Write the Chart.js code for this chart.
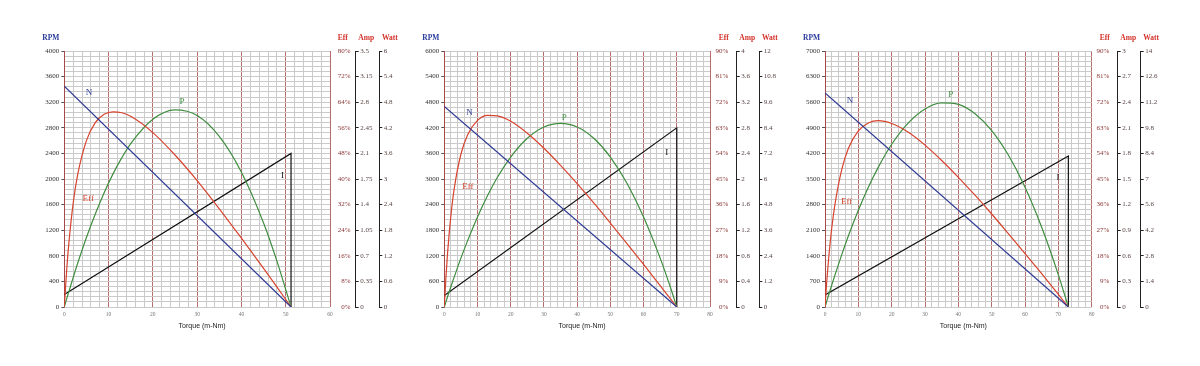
<!DOCTYPE html>
<html>
<head>
<meta charset="utf-8">
<script src="https://cdn.jsdelivr.net/npm/chart.js@4.4.1/dist/chart.umd.min.js"></script>
<style>
body { margin: 0; background: #fff; width: 1200px; height: 366px; position: relative; overflow: hidden; }
canvas { position: absolute; top: 0; }
</style>
</head>
<body>
<canvas id="c1" width="380" height="366" style="left:20px"></canvas>
<canvas id="c2" width="380" height="366" style="left:400px"></canvas>
<canvas id="c3" width="420" height="366" style="left:780px"></canvas>
<script>
// ---- panel 1 ----
const torque1 = [0, 0.5, 1, 2, 3, 5, 7, 9, 11, 13, 15, 20, 25, 30, 35, 40, 45, 48, 51.2];
const eff1 = [0, 10.8, 19.5, 32.4, 41.2, 52.0, 57.6, 60.2, 61.0, 60.7, 59.6, 54.5, 47.5, 39.5, 30.7, 21.5, 12.1, 6.3, 0];
const watt1 = [0, 0.18, 0.35, 0.69, 1.02, 1.63, 2.18, 2.68, 3.12, 3.50, 3.83, 4.40, 4.62, 4.49, 4.00, 3.16, 1.97, 1.08, 0];
const nTorque1 = [0, 51.2];
const rpm1 = [3450, 0];
const iTorque1 = [0, 51.2, 51.2];
const amp1 = [0.17, 2.1, 0];

// ---- panel 2 ----
const torque2 = [0, 0.5, 1, 2, 3, 5, 7, 10, 13, 16, 20, 25, 30, 35, 40, 45, 50, 55, 60, 65, 68, 70];
const eff2 = [0, 10.6, 19.2, 32.3, 41.7, 53.7, 60.5, 65.6, 67.4, 67.2, 65.3, 61.1, 55.8, 49.8, 43.4, 36.6, 29.5, 22.3, 15.0, 7.5, 3.0, 0];
const watt2 = [0, 0.24, 0.49, 0.96, 1.41, 2.29, 3.10, 4.22, 5.21, 6.08, 7.03, 7.91, 8.44, 8.61, 8.44, 7.91, 7.03, 5.80, 4.22, 2.29, 0.96, 0];
const nTorque2 = [0, 70];
const rpm2 = [4700, 0];
const iTorque2 = [0, 70, 70];
const amp2 = [0.18, 2.8, 0];

// ---- panel 3 ----
const torque3 = [0, 0.5, 1, 2, 3, 5, 7, 10, 13, 16, 20, 25, 30, 35, 40, 45, 50, 55, 60, 65, 70, 73];
const eff3 = [0, 8.6, 15.8, 27.5, 36.2, 48.2, 55.7, 61.9, 64.7, 65.5, 64.5, 61.4, 56.9, 51.5, 45.6, 39.3, 32.7, 25.8, 18.8, 11.7, 4.4, 0];
const watt3 = [0, 0.30, 0.60, 1.19, 1.76, 2.85, 3.88, 5.29, 6.55, 7.65, 8.90, 10.07, 10.83, 11.16, 11.08, 10.57, 9.65, 8.31, 6.55, 4.36, 1.76, 0];
const nTorque3 = [0, 73];
const rpm3 = [5850, 0];
const iTorque3 = [0, 73, 73];
const amp3 = [0.14, 1.77, 0];

// axis ranges (tick labels come from these, 10 divisions each)
const torqueMax = [60, 80, 80];
const rpmMax = [4000, 6000, 7000];
const effMax = [80, 90, 90];
const ampMax = [3.5, 4, 3];
const wattMax = [6, 12, 14];

const SERIF = '"Liberation Serif", "DejaVu Serif", serif';
const MAJOR = 'rgba(160,60,60,0.75)';
const MINOR = '#cacaca';

function pts(xs, ys) {
  return xs.map((x, i) => ({ x: x, y: ys[i] }));
}

function line(label, data, axis, color, smooth) {
  return {
    label: label, data: data, yAxisID: axis, showLine: true,
    borderColor: color, borderWidth: 1.2, pointRadius: 0, fill: false,
    cubicInterpolationMode: smooth ? 'monotone' : 'default', tension: 0
  };
}

function makeChart(id, k, d, lay, notes) {
  const rStep = rpmMax[k] / 50;
  const rMajor = rpmMax[k] / 10;

  const texts = {
    id: 'texts',
    afterDraw(chart) {
      const c = chart.ctx;
      const a = chart.chartArea;
      const s = chart.scales;
      c.save();
      c.textBaseline = 'middle';
      c.textAlign = 'center';
      c.font = 'bold 7.5px ' + SERIF;
      c.fillStyle = '#2b3c9b';
      c.fillText('RPM', a.left - 13.5, 38);
      c.fillStyle = '#d4322a';
      c.fillText('Eff', s.yAmp.left - 13, 38);
      c.fillText('Amp', s.yAmp.left + 10.5, 38);
      c.fillText('Watt', s.yWatt.left + 10.5, 38);
      c.font = '7px "Liberation Sans", Arial, sans-serif';
      c.fillStyle = '#222';
      c.fillText('Torque (m-Nm)', (a.left + a.right) / 2 + 5, 326);
      c.font = '9px ' + SERIF;
      notes.forEach(n => {
        c.fillStyle = n.color;
        c.fillText(n.text, s.x.getPixelForValue(n.t), s.yRpm.getPixelForValue(n.v));
      });
      c.restore();
    }
  };

  return new Chart(document.getElementById(id), {
    type: 'scatter',
    data: {
      datasets: [
        line('N', pts(d.nTorque, d.rpm), 'yRpm', '#2f3b95', false),
        line('Eff', pts(d.torque, d.eff), 'yEff', '#d8432e', true),
        line('P', pts(d.torque, d.watt), 'yWatt', '#3f8d3f', true),
        line('I', pts(d.iTorque, d.amp), 'yAmp', '#111111', false)
      ]
    },
    options: {
      responsive: false,
      animation: false,
      devicePixelRatio: 1,
      layout: { padding: { top: 51, left: 0, right: 0, bottom: 0 } },
      plugins: { legend: { display: false }, tooltip: { enabled: false } },
      scales: {
        x: {
          type: 'linear', min: 0, max: torqueMax[k],
          afterFit: s => { s.height = 59; },
          ticks: {
            stepSize: 2, autoSkip: false, maxRotation: 0, padding: 4,
            color: '#777', font: { size: 5.5, family: SERIF },
            callback: v => (v % 10 === 0 ? v : '')
          },
          grid: {
            drawTicks: false,
            color: c => (c.tick && c.tick.value % 10 === 0 ? MAJOR : MINOR)
          },
          border: { display: false }
        },
        yRpm: {
          type: 'linear', position: 'left', min: 0, max: rpmMax[k],
          afterFit: s => { s.width = lay.left; },
          ticks: {
            stepSize: rStep, autoSkip: false, maxTicksLimit: 1000, padding: 2,
            color: '#333', font: { size: 7, family: SERIF },
            callback: v => (v % rMajor === 0 ? v : '')
          },
          grid: {
            color: MINOR, tickLength: 3,
            tickColor: c => (c.tick && c.tick.value % rMajor === 0 ? '#555' : 'rgba(0,0,0,0)')
          },
          border: { color: MAJOR }
        },
        yEff: {
          type: 'linear', position: 'right', min: 0, max: effMax[k],
          afterFit: s => { s.width = lay.eff; },
          ticks: {
            stepSize: effMax[k] / 10, crossAlign: 'far', padding: 0,
            color: '#8a3535', font: { size: 7, family: SERIF },
            callback: v => v + '%'
          },
          grid: { display: false, drawTicks: false },
          border: { display: false }
        },
        // empty gap between the Eff labels and the Amp axis line
        yGap: {
          type: 'linear', position: 'right', min: 0, max: 1,
          afterFit: s => { s.width = lay.gap; },
          ticks: { display: false },
          grid: { display: false, drawTicks: false },
          border: { display: false }
        },
        yAmp: {
          type: 'linear', position: 'right', min: 0, max: ampMax[k],
          afterFit: s => { s.width = lay.amp; },
          ticks: {
            stepSize: ampMax[k] / 10, padding: 1.5,
            color: '#5a4545', font: { size: 7, family: SERIF },
            callback: v => String(Math.round(v * 100) / 100)
          },
          grid: { drawOnChartArea: false, tickLength: 3, color: '#222', tickColor: '#222' },
          border: { display: true, color: '#222', width: 1 }
        },
        yWatt: {
          type: 'linear', position: 'right', min: 0, max: wattMax[k],
          afterFit: s => { s.width = lay.watt; },
          ticks: {
            stepSize: wattMax[k] / 10, padding: 1.5,
            color: '#5a4545', font: { size: 7, family: SERIF },
            callback: v => String(Math.round(v * 100) / 100)
          },
          grid: { drawOnChartArea: false, tickLength: 3, color: '#222', tickColor: '#222' },
          border: { display: true, color: '#222', width: 1 }
        }
      }
    },
    plugins: [texts]
  });
}

makeChart('c1', 0,
  { torque: torque1, eff: eff1, watt: watt1, nTorque: nTorque1, rpm: rpm1, iTorque: iTorque1, amp: amp1 },
  { left: 44.3, eff: 20.7, gap: 5, amp: 23.6, watt: 20.7 },
  [
    { text: 'N', t: 5.6, v: 3344, color: '#2f3b95' },
    { text: 'P', t: 26.6, v: 3214, color: '#3f8d3f' },
    { text: 'Eff', t: 5.4, v: 1694, color: '#d8432e' },
    { text: 'I', t: 49.3, v: 2058, color: '#111' }
  ]);

makeChart('c2', 1,
  { torque: torque2, eff: eff2, watt: watt2, nTorque: nTorque2, rpm: rpm2, iTorque: iTorque2, amp: amp2 },
  { left: 44.3, eff: 18.3, gap: 8.4, amp: 22.6, watt: 20.7 },
  [
    { text: 'N', t: 7.6, v: 4565, color: '#2f3b95' },
    { text: 'P', t: 36.1, v: 4442, color: '#3f8d3f' },
    { text: 'Eff', t: 7.1, v: 2823, color: '#d8432e' },
    { text: 'I', t: 67.0, v: 3609, color: '#111' }
  ]);

makeChart('c3', 2,
  { torque: torque3, eff: eff3, watt: watt3, nTorque: nTorque3, rpm: rpm3, iTorque: iTorque3, amp: amp3 },
  { left: 45, eff: 17.6, gap: 8.4, amp: 23, watt: 59.3 },
  [
    { text: 'N', t: 7.5, v: 5652, color: '#2f3b95' },
    { text: 'P', t: 37.7, v: 5808, color: '#3f8d3f' },
    { text: 'Eff', t: 6.5, v: 2871, color: '#d8432e' },
    { text: 'I', t: 69.9, v: 3538, color: '#111' }
  ]);
</script>
</body>
</html>
